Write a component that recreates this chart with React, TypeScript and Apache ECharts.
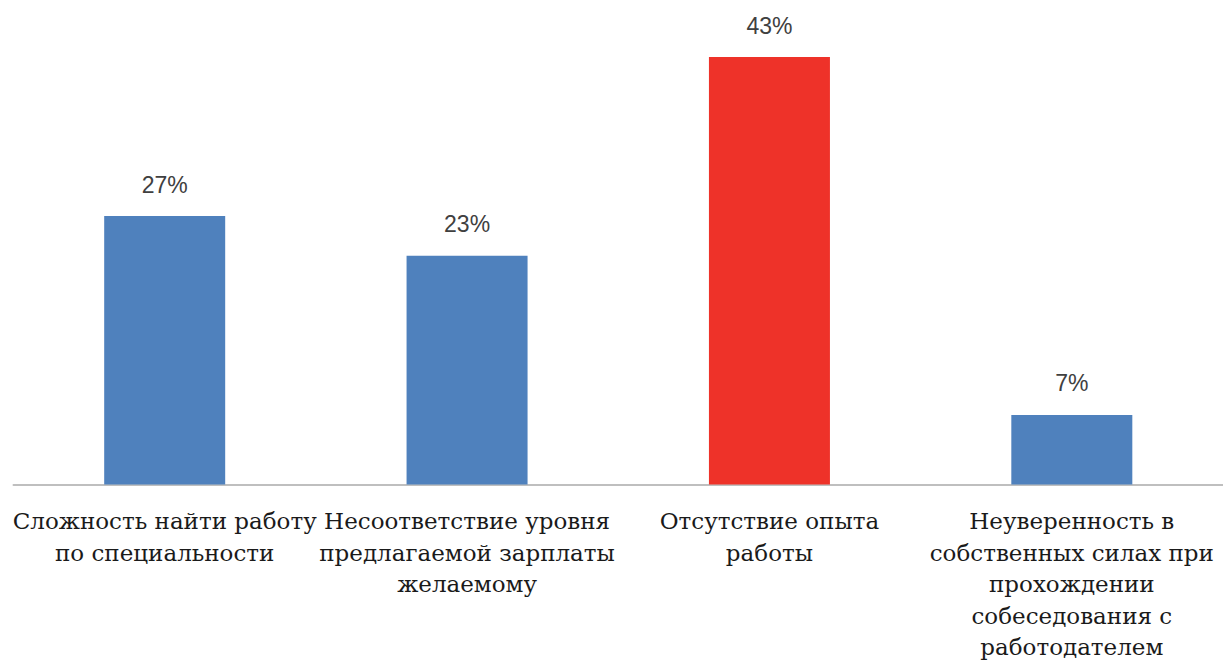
import React, { useEffect, useRef } from "react";
import * as echarts from "echarts";

const categories = [
  "Сложность найти работу\nпо специальности",
  "Несоответствие уровня\nпредлагаемой зарплаты\nжелаемому",
  "Отсутствие опыта\nработы",
  "Неуверенность в\nсобственных силах при\nпрохождении\nсобеседования с\nработодателем",
];
const values = [27, 23, 43, 7];
const barColors = ["#4F81BD", "#4F81BD", "#EE3229", "#4F81BD"];

export default function App() {
  const ref = useRef<HTMLDivElement>(null);
  useEffect(() => {
    const chart = echarts.init(ref.current!, null, { renderer: "svg" });
    chart.setOption({
      animation: false,
      grid: { left: 13.5, width: 1212, top: 57, bottom: 178, containLabel: false },
      xAxis: {
        type: "category",
        data: categories,
        axisLine: { lineStyle: { color: "#BFBFBF", width: 2 } },
        axisTick: { show: false },
        axisLabel: {
          interval: 0,
          margin: 21,
          fontFamily: "DejaVu Serif",
          fontSize: 23,
          lineHeight: 31.5,
          color: "#1a1a1a",
          align: "center",
        },
      },
      yAxis: {
        type: "value",
        min: 0,
        max: 43,
        show: false,
        splitLine: { show: false },
      },
      series: [
        {
          type: "bar",
          barWidth: 121,
          data: values.map((v, i) => ({ value: v, itemStyle: { color: barColors[i] } })),
          label: {
            show: true,
            position: "top",
            distance: 20,
            formatter: "{c}%",
            fontFamily: "Liberation Sans",
            fontSize: 23,
            fontWeight: "normal",
            color: "#404040",
          },
        },
      ],
    });
    return () => chart.dispose();
  }, []);
  return (
    <div
      ref={ref}
      style={{ position: "fixed", left: 0, top: 0, width: 1223, height: 663, background: "#fff" }}
    />
  );
}
